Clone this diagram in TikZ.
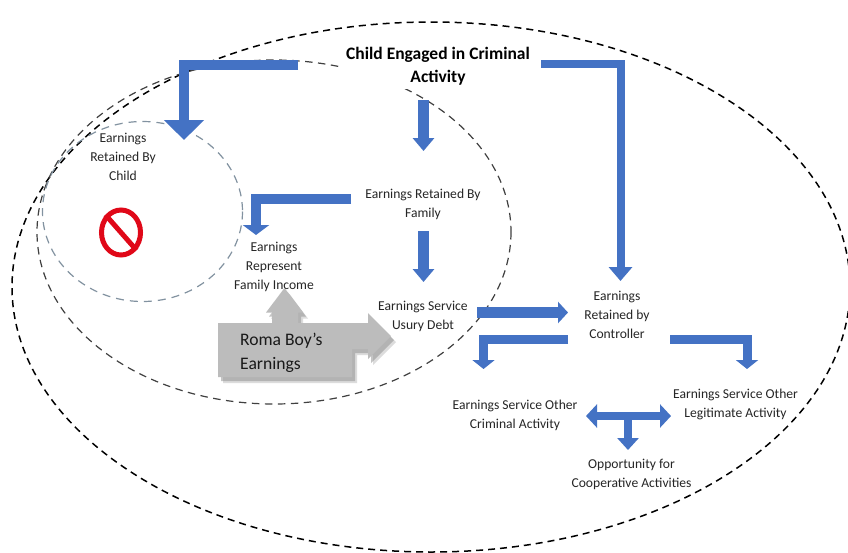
\documentclass[tikz,border=0pt]{standalone}
\usepackage{fontspec}
\setmainfont{Carlito}
\usetikzlibrary{arrows.meta,shapes.geometric}
\definecolor{blockblue}{RGB}{68,114,196}
\definecolor{blockgray}{RGB}{188,188,188}
\definecolor{ringred}{RGB}{224,8,24}
\definecolor{circlegray}{RGB}{130,146,160}
\tikzset{
  outerring/.style={draw=black,line width=1.5pt,dash pattern=on 7pt off 5pt},
  innerring/.style={draw=black!75,line width=1.2pt,dash pattern=on 7.5pt off 5.5pt},
  childring/.style={draw=circlegray,line width=1.2pt,dash pattern=on 8pt off 6pt},
  textlabel/.style={align=center,font=\fontsize{13.6}{18.7}\selectfont,inner sep=0pt,text=black!85},
  titlelabel/.style={align=center,font=\fontsize{17.5}{23}\selectfont\bfseries,fill=white,inner xsep=6pt,inner ysep=3pt,text=black},
  block/.style={draw=blockblue,line width=#1,line join=miter},
  bighead/.style={-{Triangle[width=39pt,length=20pt]}},
  midhead/.style={-{Triangle[width=22pt,length=9pt]}},
  smallhead/.style={-{Triangle[width=21pt,length=13pt]}},
}
\newcommand{\boyshape}{(218,323) -- (272,323) -- (272,312.5) -- (266,312.5) -- (284.5,288) -- (303,312.5) -- (298,312.5) -- (298,323) -- (368,323) -- (368,313) -- (391,336) -- (368,359) -- (368,349) -- (352,349) -- (352,377) -- (218,377) -- cycle}
\begin{document}
\begin{tikzpicture}[x=1pt,y=-1pt]
\useasboundingbox (0,0) rectangle (848,552);
\clip (0,0) rectangle (848,552);
\fill[white] (0,0) rectangle (848,552);
% rings
\draw[outerring] (431,287) ellipse [x radius=419,y radius=265];
\draw[innerring] (274,232) ellipse [x radius=237,y radius=172];
\draw[childring] (142.5,211.5) ellipse [x radius=100,y radius=90];
% labels
\node[titlelabel] (title) at (438,66.5) {Child Engaged in Criminal\\Activity};
\node[textlabel] (child) at (123,157) {Earnings\\Retained By\\Child};
\node[textlabel] (family) at (423,204.5) {Earnings Retained By\\Family};
\node[textlabel] (income) at (274,267) {Earnings\\Represent\\Family Income};
\node[textlabel] (usury) at (423,316.5) {Earnings Service\\Usury Debt};
\node[textlabel] (controller) at (617,315) {Earnings\\Retained by\\Controller};
\node[textlabel] (criminal) at (515,415.5) {Earnings Service Other\\Criminal Activity};
\node[textlabel] (legit) at (735.5,404.5) {Earnings Service Other\\Legitimate Activity};
\node[textlabel] (coop) at (631.5,474.5) {Opportunity for\\Cooperative Activities};
% blue connectors
\draw[block=10pt,bighead] ([shift={(-140,-2)}]title.center) -| ([shift={(61,-17)}]child.center);
\draw[block=11pt,smallhead] ([shift={(-14.5,33.5)}]title.center) -- ([shift={(0.5,-53.5)}]family.center);
\draw[block=10pt,-{Triangle[width=26pt,length=10pt]}] ([shift={(-72,-6)}]family.center) -| ([shift={(-18,-32)}]income.center);
\draw[block=11pt,smallhead] ([shift={(0.5,26.5)}]family.center) -- ([shift={(0.5,-34.5)}]usury.center);
\draw[block=8pt,-{Triangle[width=23pt,length=14pt]}] ([shift={(103,-2.5)}]title.center) -| ([shift={(3.5,-34)}]controller.center);
\draw[block=11pt,-{Triangle[width=21pt,length=10pt]}] ([shift={(54,-4)}]usury.center) -- ([shift={(-49,-2.5)}]controller.center);
\draw[block=9pt,midhead] ([shift={(-49,24.5)}]controller.center) -| ([shift={(-31.5,-46.5)}]criminal.center);
\draw[block=9pt,midhead] ([shift={(53,24.5)}]controller.center) -| ([shift={(11.5,-35.5)}]legit.center);
\draw[block=8pt,{Triangle[width=23pt,length=11pt]}-{Triangle[width=23pt,length=11pt]}] ([shift={(71,0.5)}]criminal.center) -- ([shift={(-64.5,11.5)}]legit.center);
\draw[block=8pt,-{Triangle[width=21pt,length=12pt]}] ([shift={(-3.5,-58.5)}]coop.center) -- ([shift={(-3.5,-24.5)}]coop.center);
% grey block
\fill[black!45,opacity=.3] [shift={(5,6)}] \boyshape;
\fill[black!45,opacity=.5] [shift={(3,4)}] \boyshape;
\fill[blockgray] \boyshape;
\node[align=left,anchor=west,inner sep=0pt,font=\fontsize{17.6}{24}\selectfont,text=black!90] (boy) at (240,353) {Roma Boy’s\\Earnings};
% prohibition sign
\node[draw=ringred,line width=5pt,ellipse,minimum width=39pt,minimum height=45pt,inner sep=0pt] (ban) at (121,232.5) {};
\draw[ringred,line width=5pt] (ban.north west) -- (ban.south east);
\end{tikzpicture}
\end{document}
